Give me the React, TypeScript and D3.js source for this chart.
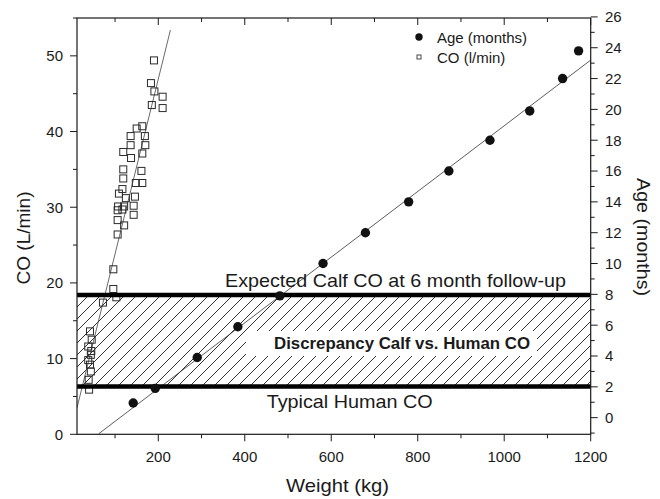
import React from 'react';
import * as d3 from 'd3';

// Age vs weight (filled circles, right axis)
const weightAge = [142, 193, 290, 384, 481, 581, 679, 779, 872, 967, 1059, 1135, 1172];
const ageMonths = [0.95, 1.9, 3.9, 5.9, 7.9, 10.0, 12.0, 14.0, 16.0, 18.0, 19.9, 22.0, 23.8];

// CO vs weight (open squares, left axis)
const weightCO = [
  190, 183, 191, 210, 210, 185, 163, 150, 136, 169, 136, 170, 119, 137, 163, 119, 161, 119, 148,
  163, 117, 109, 125, 146, 143, 107, 121, 106, 117, 143, 106, 121, 106, 96, 96, 103, 72,
  42, 46, 38, 45, 44, 38, 42, 44, 39, 40,
];
const coValues = [
  49.4, 46.4, 45.3, 44.6, 43.1, 43.5, 40.7, 40.4, 39.4, 39.4, 38.2, 38.2, 37.3, 36.5, 37.1, 35.0, 34.8, 33.8, 33.2,
  33.2, 32.4, 31.8, 31.2, 31.4, 30.2, 30.1, 30.1, 29.6, 29.7, 29.0, 28.3, 27.6, 26.4, 21.8, 19.2, 18.1, 17.4,
  13.6, 12.5, 11.6, 11.0, 10.5, 9.8, 9.2, 8.3, 7.2, 5.9,
];

// fit lines, end points
const coFitWeights = [12, 228];
const coFitValues = [3.5, 53.4];
const ageFitWeights = [62, 1200];
const ageFitValues = [-1.05, 23.2];

// reference levels (CO, L/min)
const humanCO = 6.3;
const expectedCO = 18.4;

// ticks
const xMajor = [200, 400, 600, 800, 1000, 1200];
const xMinor = [100, 300, 500, 700, 900, 1100];
const coMajor = [0, 10, 20, 30, 40, 50];
const coMinor = [5, 15, 25, 35, 45, 55];
const ageMajor = d3.range(0, 27, 2);
const ageMinor = d3.range(-1, 26, 2);

const W = 660;
const H = 499;
const left = 77;
const right = 590.7;
const top = 18;
const bottom = 434.3;
const font = 'Liberation Sans, Arial, sans-serif';
const ink = '#1a1a1a';

const x = d3.scaleLinear().domain([12, 1200]).range([left, right]);
const yCO = d3.scaleLinear().domain([0, 55]).range([bottom, top]);
const yAge = d3.scaleLinear().domain([-1.08, 25.93]).range([bottom, top]);

const line = d3.line<[number, number]>();

export default function App() {
  const coFit = line(coFitWeights.map((w, i) => [x(w), yCO(coFitValues[i])]));
  const ageFit = line(ageFitWeights.map((w, i) => [x(w), yAge(ageFitValues[i])]));
  const yHi = yCO(expectedCO);
  const yLo = yCO(humanCO);

  return (
    <svg
      width={W}
      height={H}
      style={{ position: 'absolute', left: 0, top: 0, background: '#fff' }}
      fontFamily={font}
    >
      <defs>
        <pattern id="hatch" patternUnits="userSpaceOnUse" width={12} height={12}>
          <path d="M-3,3 L3,-3 M0,12 L12,0 M9,15 L15,9" stroke={ink} strokeWidth={0.9} />
        </pattern>
        <clipPath id="plot">
          <rect x={left} y={top} width={right - left} height={bottom - top} />
        </clipPath>
      </defs>

      {/* hatched discrepancy band */}
      <rect x={left} y={yHi} width={right - left} height={yLo - yHi} fill="url(#hatch)" />
      <rect x={246} y={331} width={291} height={25} fill="#fff" />

      <g clipPath="url(#plot)">
        <path d={coFit ?? ''} fill="none" stroke="#444" strokeWidth={0.8} />
        <path d={ageFit ?? ''} fill="none" stroke="#333" strokeWidth={0.8} />
      </g>

      {/* CO squares */}
      {weightCO.map((w, i) => (
        <rect
          key={'s' + i}
          x={x(w) - 3.5}
          y={yCO(coValues[i]) - 3.5}
          width={7}
          height={7}
          fill="none"
          stroke="#2a2a2a"
          strokeWidth={1}
        />
      ))}

      {/* thick reference lines */}
      <line x1={left} x2={right} y1={yHi} y2={yHi} stroke="#000" strokeWidth={4.5} />
      <line x1={left} x2={right} y1={yLo} y2={yLo} stroke="#000" strokeWidth={4.5} />

      {/* age circles */}
      {weightAge.map((w, i) => (
        <circle key={'c' + i} cx={x(w)} cy={yAge(ageMonths[i])} r={4.7} fill="#111" />
      ))}

      {/* frame */}
      <rect x={left} y={top} width={right - left} height={bottom - top} fill="none" stroke={ink} strokeWidth={1.2} />

      {/* bottom + top ticks */}
      {xMajor.map((v) => (
        <g key={'xm' + v}>
          <line x1={x(v)} x2={x(v)} y1={bottom} y2={bottom + 7} stroke={ink} />
          <line x1={x(v)} x2={x(v)} y1={top} y2={top + 7} stroke={ink} />
          <text x={x(v)} y={461.5} textAnchor="middle" fontSize={15} fill={ink}>
            {v}
          </text>
        </g>
      ))}
      {xMinor.map((v) => (
        <g key={'xn' + v}>
          <line x1={x(v)} x2={x(v)} y1={bottom} y2={bottom + 4} stroke={ink} />
          <line x1={x(v)} x2={x(v)} y1={top} y2={top + 4} stroke={ink} />
        </g>
      ))}

      {/* left CO axis */}
      {coMajor.map((v) => (
        <g key={'cm' + v}>
          <line x1={left - 7} x2={left} y1={yCO(v)} y2={yCO(v)} stroke={ink} />
          <text x={63} y={yCO(v)} dy="0.36em" textAnchor="end" fontSize={15} fill={ink}>
            {v}
          </text>
        </g>
      ))}
      {coMinor.map((v) => (
        <line key={'cn' + v} x1={left - 4} x2={left} y1={yCO(v)} y2={yCO(v)} stroke={ink} />
      ))}

      {/* right age axis */}
      {ageMajor.map((v) => (
        <g key={'am' + v}>
          <line x1={right} x2={right + 7} y1={yAge(v)} y2={yAge(v)} stroke={ink} />
          <text x={605} y={yAge(v)} dy="0.36em" fontSize={15} fill={ink}>
            {v}
          </text>
        </g>
      ))}
      {ageMinor.map((v) => (
        <line key={'an' + v} x1={right} x2={right + 4} y1={yAge(v)} y2={yAge(v)} stroke={ink} />
      ))}

      {/* axis titles */}
      <text x={337.5} y={492} textAnchor="middle" fontSize={19} fill={ink} textLength={103} lengthAdjust="spacingAndGlyphs">
        Weight (kg)
      </text>
      <text
        transform="translate(30,238) rotate(-90)"
        textAnchor="middle"
        fontSize={19}
        fill={ink}
        textLength={93}
        lengthAdjust="spacingAndGlyphs"
      >
        CO (L/min)
      </text>
      <text
        transform="translate(637,237) rotate(90)"
        textAnchor="middle"
        fontSize={19}
        fill={ink}
        textLength={118}
        lengthAdjust="spacingAndGlyphs"
      >
        Age (months)
      </text>

      {/* annotations */}
      <text x={395.5} y={287} textAnchor="middle" fontSize={19} fill={ink} textLength={341} lengthAdjust="spacingAndGlyphs">
        Expected Calf CO at 6 month follow-up
      </text>
      <text x={402} y={348.5} textAnchor="middle" fontSize={16} fontWeight="bold" fill={ink} textLength={256} lengthAdjust="spacingAndGlyphs">
        Discrepancy Calf vs. Human CO
      </text>
      <text x={349.7} y={408} textAnchor="middle" fontSize={19} fill={ink} textLength={166} lengthAdjust="spacingAndGlyphs">
        Typical Human CO
      </text>

      {/* legend */}
      <circle cx={419} cy={37} r={3.7} fill="#111" />
      <text x={437} y={43} fontSize={15} fill={ink}>
        Age (months)
      </text>
      <rect x={417} y={55} width={4} height={4} fill="none" stroke="#333" strokeWidth={0.9} />
      <text x={437} y={63} fontSize={15} fill={ink}>
        CO (l/min)
      </text>
    </svg>
  );
}
